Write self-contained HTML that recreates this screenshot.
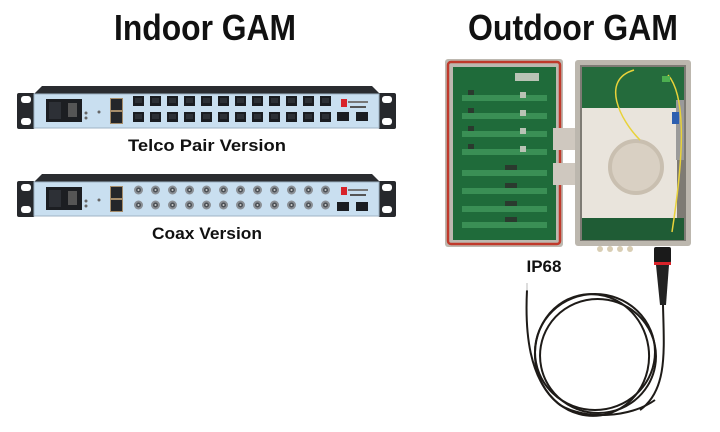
<!DOCTYPE html>
<html><head><meta charset="utf-8"><style>
html,body{margin:0;padding:0;background:#fff}
svg{display:block}
text{font-family:"Liberation Sans",Arial,sans-serif;font-weight:bold;fill:#111}
</style></head><body>
<svg width="720" height="432" viewBox="0 0 720 432" xmlns="http://www.w3.org/2000/svg">
<defs>
  <g id="rj"><rect x="0" y="0" width="11" height="10" fill="#1a1d22"/><rect x="2" y="2" width="7" height="5" fill="#2c3036"/></g>
  <g id="cx"><circle cx="5.5" cy="5" r="4.5" fill="#8a8f95"/><circle cx="5.5" cy="5" r="2.5" fill="#4a4f55"/><circle cx="5.5" cy="5" r="1" fill="#ccc"/></g>
  <g id="rack">
    <path d="M33 95 L42 86 L372 86 L381 95 Z" fill="#2a2c30"/>
    <rect x="17" y="93" width="18" height="36" rx="2" fill="#26282c"/>
    <rect x="21" y="96" width="10" height="7" rx="3" fill="#fff"/>
    <rect x="21" y="118" width="10" height="7" rx="3" fill="#fff"/>
    <rect x="378" y="93" width="18" height="36" rx="2" fill="#26282c"/>
    <rect x="382" y="96" width="10" height="7" rx="3" fill="#fff"/>
    <rect x="382" y="118" width="10" height="7" rx="3" fill="#fff"/>
    <rect x="34" y="94" width="345" height="34" fill="#c9dff0"/>
    <rect x="34" y="94" width="345" height="34" fill="none" stroke="#9fb3c4" stroke-width="1"/>
    <rect x="46" y="99" width="36" height="23" fill="#1c1e22"/>
    <rect x="49" y="102" width="12" height="17" fill="#2d3036"/>
    <rect x="68" y="103" width="9" height="14" fill="#555"/>
    <circle cx="86" cy="113" r="1.5" fill="#666"/><circle cx="86" cy="118" r="1.5" fill="#666"/>
    <circle cx="99" cy="112" r="1.5" fill="#666"/>
    <rect x="110" y="98" width="13" height="26" fill="#a58c6a"/>
    <rect x="111" y="99" width="11" height="11" fill="#24262a"/>
    <rect x="111" y="112" width="11" height="11" fill="#24262a"/>
    <rect x="341" y="99" width="6" height="8" fill="#d8232a"/>
    <rect x="348" y="101" width="20" height="2" fill="#777"/>
    <rect x="350" y="106" width="16" height="2" fill="#555"/>
  </g>
</defs>

<text x="205" y="40" font-size="36" text-anchor="middle" textLength="182" lengthAdjust="spacingAndGlyphs">Indoor GAM</text>
<text x="573" y="40" font-size="36" text-anchor="middle" textLength="210" lengthAdjust="spacingAndGlyphs">Outdoor GAM</text>

<use href="#rack"/>
<g>
  <use href="#rj" x="133" y="96"/><use href="#rj" x="150" y="96"/><use href="#rj" x="167" y="96"/><use href="#rj" x="184" y="96"/><use href="#rj" x="201" y="96"/><use href="#rj" x="218" y="96"/><use href="#rj" x="235" y="96"/><use href="#rj" x="252" y="96"/><use href="#rj" x="269" y="96"/><use href="#rj" x="286" y="96"/><use href="#rj" x="303" y="96"/><use href="#rj" x="320" y="96"/>
  <use href="#rj" x="133" y="112"/><use href="#rj" x="150" y="112"/><use href="#rj" x="167" y="112"/><use href="#rj" x="184" y="112"/><use href="#rj" x="201" y="112"/><use href="#rj" x="218" y="112"/><use href="#rj" x="235" y="112"/><use href="#rj" x="252" y="112"/><use href="#rj" x="269" y="112"/><use href="#rj" x="286" y="112"/><use href="#rj" x="303" y="112"/><use href="#rj" x="320" y="112"/>
  <rect x="337" y="112" width="12" height="9" fill="#1a1d22"/><rect x="356" y="112" width="12" height="9" fill="#1a1d22"/>
</g>
<text x="207" y="151" font-size="17" text-anchor="middle" textLength="158" lengthAdjust="spacingAndGlyphs">Telco Pair Version</text>

<g transform="translate(0,88)">
  <use href="#rack"/>
  <use href="#cx" x="133" y="97"/><use href="#cx" x="150" y="97"/><use href="#cx" x="167" y="97"/><use href="#cx" x="184" y="97"/><use href="#cx" x="201" y="97"/><use href="#cx" x="218" y="97"/><use href="#cx" x="235" y="97"/><use href="#cx" x="252" y="97"/><use href="#cx" x="269" y="97"/><use href="#cx" x="286" y="97"/><use href="#cx" x="303" y="97"/><use href="#cx" x="320" y="97"/>
  <use href="#cx" x="133" y="112"/><use href="#cx" x="150" y="112"/><use href="#cx" x="167" y="112"/><use href="#cx" x="184" y="112"/><use href="#cx" x="201" y="112"/><use href="#cx" x="218" y="112"/><use href="#cx" x="235" y="112"/><use href="#cx" x="252" y="112"/><use href="#cx" x="269" y="112"/><use href="#cx" x="286" y="112"/><use href="#cx" x="303" y="112"/><use href="#cx" x="320" y="112"/>
  <rect x="337" y="114" width="12" height="9" fill="#1a1d22"/><rect x="356" y="114" width="12" height="9" fill="#1a1d22"/>
</g>
<text x="207" y="239" font-size="17" text-anchor="middle" textLength="110" lengthAdjust="spacingAndGlyphs">Coax Version</text>

<!-- left lid -->
<rect x="445" y="59" width="118" height="188" rx="3" fill="#bdb8b0"/>
<rect x="448" y="62" width="112" height="182" rx="3" fill="none" stroke="#c0392b" stroke-width="2.5"/>
<rect x="453" y="67" width="103" height="173" fill="#1f6b3a"/>
<g fill="#3a8f55">
  <rect x="462" y="95" width="85" height="6"/><rect x="462" y="113" width="85" height="6"/><rect x="462" y="131" width="85" height="6"/><rect x="462" y="149" width="85" height="6"/>
  <rect x="462" y="170" width="85" height="6"/><rect x="462" y="188" width="85" height="6"/><rect x="462" y="206" width="85" height="6"/><rect x="462" y="222" width="85" height="6"/>
</g>
<g fill="#2a3a2e">
  <rect x="468" y="90" width="6" height="5"/><rect x="468" y="108" width="6" height="5"/><rect x="468" y="126" width="6" height="5"/><rect x="468" y="144" width="6" height="5"/>
  <rect x="505" y="165" width="12" height="5"/><rect x="505" y="183" width="12" height="5"/><rect x="505" y="201" width="12" height="5"/><rect x="505" y="217" width="12" height="5"/>
</g>
<g fill="#b9c3b5">
  <rect x="520" y="92" width="6" height="6"/><rect x="520" y="110" width="6" height="6"/><rect x="520" y="128" width="6" height="6"/><rect x="520" y="146" width="6" height="6"/>
  <rect x="515" y="73" width="24" height="8"/>
</g>
<rect x="553" y="128" width="35" height="22" fill="#cfc8bf"/>
<rect x="553" y="163" width="35" height="22" fill="#cfc8bf"/>
<!-- right box -->
<rect x="575" y="60" width="116" height="186" rx="3" fill="#bcb7ae"/>
<rect x="580" y="65" width="106" height="176" fill="#7e7b74"/>
<rect x="582" y="67" width="102" height="44" fill="#246b3c"/>
<rect x="582" y="108" width="95" height="110" fill="#e9e4dc"/>
<rect x="582" y="218" width="102" height="22" fill="#1f5c35"/>
<rect x="676" y="100" width="8" height="60" fill="#9a9a9a"/>
<circle cx="636" cy="167" r="26" fill="#d9d0c3" stroke="#c9bfb0" stroke-width="4"/>
<path d="M634 70 C600 80 620 120 640 140" stroke="#e8d23a" stroke-width="1.5" fill="none"/>
<path d="M668 75 C690 100 680 180 672 232" stroke="#e8d23a" stroke-width="1.5" fill="none"/>
<rect x="662" y="76" width="8" height="6" fill="#4caf50"/>
<rect x="672" y="112" width="7" height="12" fill="#2d5fb0"/>
<g fill="#d8cdb3"><circle cx="600" cy="249" r="3"/><circle cx="610" cy="249" r="3"/><circle cx="620" cy="249" r="3"/><circle cx="630" cy="249" r="3"/></g>
<text x="544" y="272" font-size="17" text-anchor="middle">IP68</text>

<!-- connector & cable -->
<rect x="654" y="247" width="17" height="16" rx="2" fill="#1a1a1a"/>
<rect x="654" y="262" width="17" height="3" fill="#d8232a"/>
<path d="M656 265 L669 265 L666 305 L660 305 Z" fill="#222"/>
<g fill="none" stroke="#1e1b18" stroke-width="2">
  <path d="M663 305 C664 350 668 390 640 410"/>
  <ellipse cx="595" cy="352" rx="60" ry="58"/>
  <ellipse cx="592" cy="355" rx="57" ry="61" transform="rotate(-8 592 355)"/>
  <ellipse cx="598" cy="356" rx="58" ry="57" transform="rotate(10 598 356)"/>
  <path d="M527 290 C525 330 528 380 560 405 C585 420 630 418 655 400"/>
</g>
<line x1="527" y1="283" x2="527" y2="291" stroke="#bbb" stroke-width="1"/>
</svg>
</body></html>
